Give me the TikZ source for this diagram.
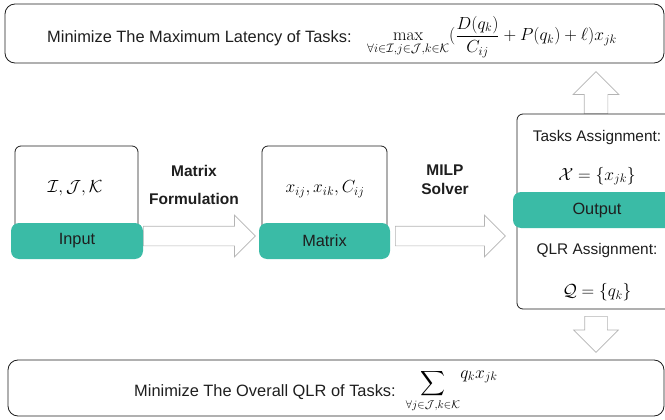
\RequirePackage{fix-cm}
\documentclass[tikz,border=0pt]{standalone}
\usepackage{amsmath}
\usepackage{fontspec}
\newfontfamily\lsans{Liberation Sans}
\usetikzlibrary{shapes.arrows}

\definecolor{bandgreen}{HTML}{3ABBA6}
\definecolor{inkdark}{HTML}{1E1E1E}
\definecolor{arrowgray}{HTML}{B4B4B4}

\tikzset{
  cardbox/.style={draw=inkdark, line width=0.8pt, rounded corners=6pt, fill=white, inner sep=0pt},
  band/.style={fill=bandgreen, rounded corners=8pt, inner sep=0pt, text=inkdark,
    font=\lsans\fontsize{16.3}{19}\selectfont},
  goalbox/.style={draw=inkdark, line width=0.8pt, rounded corners=10pt, inner sep=0pt},
  txt/.style={text=inkdark, inner sep=0pt, font=\lsans\fontsize{16.4}{19}\selectfont},
  smalltxt/.style={text=inkdark, inner sep=0pt, font=\lsans\fontsize{15.4}{18}\selectfont},
  steplabel/.style={text=inkdark, inner sep=0pt, font=\lsans\bfseries\fontsize{15.5}{18}\selectfont},
  mathtxt/.style={text=black, inner sep=0pt, font=\fontsize{17.5}{21}\selectfont},
  hollow/.style={single arrow, draw=arrowgray, line width=0.7pt, fill=white,
    inner sep=9.5pt, single arrow head extend=11pt, single arrow head indent=0pt}
}

\begin{document}
\begin{tikzpicture}[x=1pt, y=-1pt]
\clip (0,0) rectangle (665,420);

% objective: maximum latency
\node[goalbox, minimum width=659pt, minimum height=59pt] (latbox) at (334.5,33.5) {};
\node[txt, anchor=base west] (latgoal) at (47,43) {Minimize The Maximum Latency of Tasks:};
\node[mathtxt, anchor=west] (latexpr) at (367,37)
  {$\displaystyle\max_{\forall i\in\mathcal{I},j\in\mathcal{J},k\in\mathcal{K}}
   (\frac{D(q_k)}{C_{ij}}+P(q_k)+\ell)x_{jk}$};

% objective: overall QLR
\node[goalbox, minimum width=656pt, minimum height=56pt] (qlrbox) at (336,388) {};
\node[txt, anchor=base west] (qlrgoal) at (134,396) {Minimize The Overall QLR of Tasks:};
\node[mathtxt, anchor=north, font=\fontsize{16}{19}\selectfont] (qlrsum) at (433,369.5)
  {$\displaystyle\sum_{\forall j\in\mathcal{J},k\in\mathcal{K}}$};
\node[mathtxt] (qlrterm) at (479,377) {$q_k x_{jk}$};

% hollow arrows between the stages
\node[hollow, minimum height=112pt, anchor=tail] (formarrow) at (143,236) {};
\node[hollow, minimum height=110pt, anchor=tail] (solvearrow) at (395,236) {};
\node[hollow, minimum height=42pt, anchor=tail, rotate=90, inner sep=11.5pt] (uparrow) at (596,114) {};
\node[hollow, minimum height=36pt, anchor=tail, rotate=-90, inner sep=11pt] (downarrow) at (596,316) {};

% input stage
\node[cardbox, minimum width=123pt, minimum height=104pt] (inbox) at (76.5,198) {};
\node[band, minimum width=132pt, minimum height=36pt] (inband) at (77,241) {Input};
\node[mathtxt] (sets) at (75,188) {$\mathcal{I},\mathcal{J},\mathcal{K}$};

% matrix stage
\node[cardbox, minimum width=125pt, minimum height=104pt] (mxbox) at (324.5,198) {};
\node[band, minimum width=131pt, minimum height=36pt] (mxband) at (324.5,241) {Matrix};
\node[mathtxt] (vars) at (325,189) {$x_{ij},x_{ik},C_{ij}$};

% arrow captions
\node[steplabel] (capA) at (194,171) {Matrix};
\node[steplabel] (capB) at (194,199) {Formulation};
\node[steplabel] (capC) at (445,170) {MILP};
\node[steplabel] (capD) at (445,189) {Solver};

% output stage
\node[cardbox, minimum width=160pt, minimum height=195pt] (outbox) at (597,211.5) {};
\node[band, minimum width=168pt, minimum height=36pt] (outband) at (597,210) {Output};
\node[smalltxt] (taskhead) at (597,138) {Tasks Assignment:};
\node[mathtxt] (taskset) at (597,176) {$\mathcal{X}=\{x_{jk}\}$};
\node[smalltxt] (qlrhead) at (597,251) {QLR Assignment:};
\node[mathtxt] (qlrset) at (597,292) {$\mathcal{Q}=\{q_k\}$};
\end{tikzpicture}
\end{document}
